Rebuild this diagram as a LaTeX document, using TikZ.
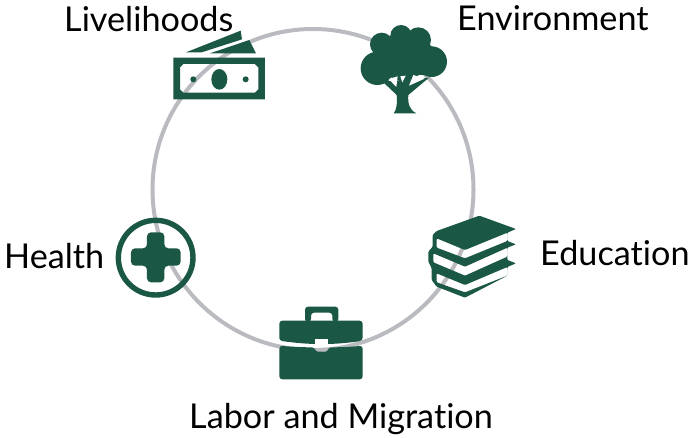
\documentclass[tikz,border=0pt]{standalone}
\usepackage{fontspec}
\setmainfont{Lato}
\definecolor{iconGreen}{HTML}{1A5745}
\definecolor{ringGray}{HTML}{B9BBC1}
\tikzset{
  lbl/.style={inner sep=0pt,text=black,font=\fontsize{34.2}{40}\selectfont},
  ic/.style={fill=iconGreen,draw=none,even odd rule}
}
\begin{document}
\begin{tikzpicture}[x=1pt,y=-1pt]
\useasboundingbox (0,0) rectangle (692,437);
\fill[white] (0,0) rectangle (692,437);
\draw[ringGray,line width=4pt] (313,189.5) circle (160.5);
% Livelihoods
\begin{scope}[shift={(150pt,-20pt)},x=0.3333pt,y=-0.3333pt]
\path[ic] (108,97) -- (272,32) -- (276,58) -- (155,97) -- cycle;
\path[ic] (180,100) -- (298,60) -- (318,100) -- cycle;
\path[ic] (70,113) rectangle (345,238)
  (100,132) -- (315,132) -- (325,142) -- (325,208) -- (315,218) -- (100,218) -- (90,208) -- (90,142) -- cycle;
\path[ic] (208,178) ellipse [x radius=24,y radius=31];
\path[ic] (130,178) circle (9);
\path[ic] (287,178) circle (9);
\end{scope}
% Environment
\begin{scope}[shift={(350pt,-15pt)},x=0.3333pt,y=-0.3333pt]
\fill[iconGreen] (153,62) circle (32) (95,88) circle (35) (205,75) circle (38)
  (82,160) circle (50) (245,140) circle (46) (160,125) circle (72);
\fill[iconGreen] (90,110) rectangle (240,180);
\fill[iconGreen] (205,40) -- (240,90) -- (270,115) -- (220,130) -- cycle;
\fill[iconGreen] (131,295) .. controls (140,285) and (142,265) .. (140,240) -- (98,200) -- (237,188) -- (175,240) .. controls (173,265) and (178,285) .. (199,295) -- cycle;
\fill[white] (116,192) -- (143,184) -- (139,216) -- cycle;
\fill[white] (151,184) -- (167,182) -- (157,202) -- cycle;
\fill[white] (190,180) -- (224,191) -- (177,212) -- cycle;
\end{scope}
% Education
\begin{scope}[shift={(420pt,-205pt)},x=0.3333pt,y=-0.3333pt]
\path[ic,rounded corners=1pt]
  (178,32) -- (288,72) -- (262,83) -- (262,108) -- (288,118) -- (262,128) -- (262,165) -- (288,175) -- (262,186) -- (262,212) -- (135,278)
  -- (50,245) -- (35,225) -- (35,190) -- (25,170) -- (25,140) -- (38,125) -- (38,90) -- (50,78) -- cycle
  (50,100) -- (135,135) -- (262,83) -- (262,108) -- (135,160) -- (50,128) -- cycle
  (40,145) -- (135,185) -- (262,128) -- (262,155) -- (135,212) -- (40,172) -- cycle
  (50,205) -- (135,240) -- (262,186) -- (262,212) -- (135,262) -- (50,232) -- cycle;
\end{scope}
% Labor and Migration
\begin{scope}[shift={(270pt,-300pt)},x=0.3333pt,y=-0.3333pt]
\path[ic,rounded corners=3pt] (28,122) -- (28,62) -- (278,62) -- (278,122) .. controls (240,128) and (200,132) .. (155,132) .. controls (110,132) and (70,128) .. (28,122) -- cycle;
\path[ic,rounded corners=3pt] (28,137) .. controls (60,140) and (100,142) .. (135,142) -- (135,155) -- (175,155) -- (175,142) .. controls (210,142) and (250,140) .. (278,137) -- (278,238) -- (28,238) -- cycle;
\path[ic,rounded corners=3pt] (105,66) -- (105,20) -- (205,20) -- (205,66) -- (187,66) -- (187,38) -- (123,38) -- (123,66) -- cycle;
\fill[white] (135,118) rectangle (175,135);
\end{scope}
% Health
\begin{scope}[shift={(105pt,-205pt)},x=0.3333pt,y=-0.3333pt]
\draw[iconGreen,line width=5.4pt] (152,158) circle (112);
\path[ic,rounded corners=4pt] (126,82) -- (178,82) -- (178,130) -- (227,130) -- (227,182) -- (178,182) -- (178,232) -- (126,232) -- (126,182) -- (78,182) -- (78,130) -- (126,130) -- cycle;
\end{scope}
\node[lbl,anchor=base west] (livelihoods) at (64,31) {Livelihoods};
\node[lbl,anchor=base west] (environment) at (457,30) {Environment};
\node[lbl,anchor=base west] (education) at (540,265) {Educat\kern0pt ion};
\node[lbl,anchor=base west] (health) at (4,268) {Health};
\node[lbl,anchor=base west] (labor) at (189,428) {Labor and Migrat\kern0pt ion};
\end{tikzpicture}
\end{document}
